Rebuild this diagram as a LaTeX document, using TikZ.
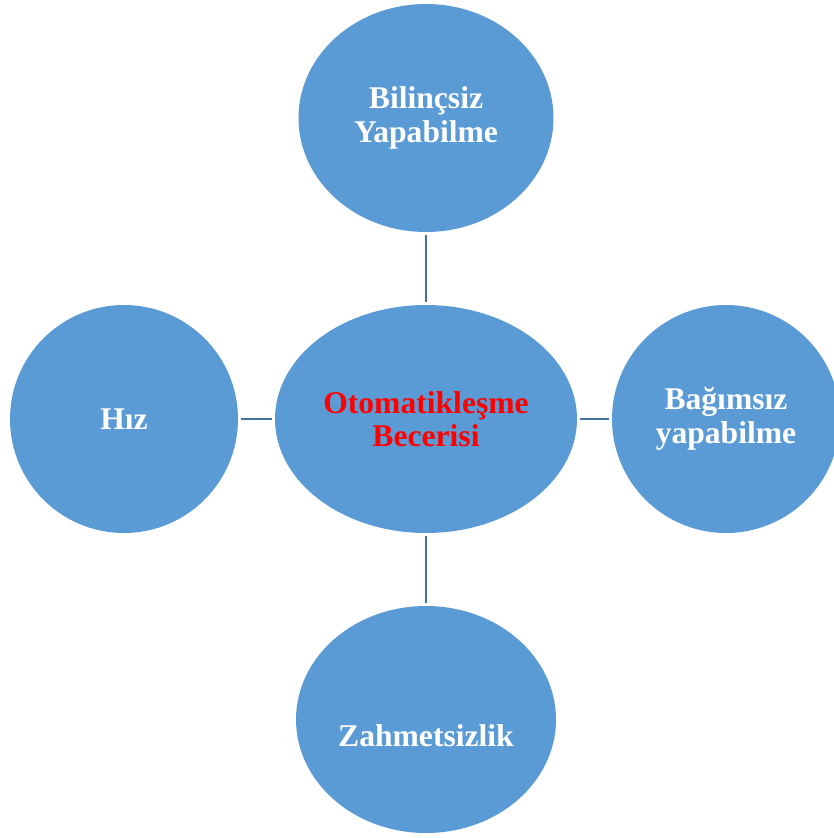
\documentclass[tikz,border=0pt]{standalone}
\usepackage{fontspec}
\setmainfont{Liberation Serif}
\usetikzlibrary{shapes.geometric}
\definecolor{bubble}{HTML}{5B9BD5}
\definecolor{linkc}{HTML}{41719C}
\definecolor{redtxt}{HTML}{FF0000}
\tikzset{
  bub/.style={ellipse, fill=bubble, inner sep=0pt, align=center,
    font=\fontsize{31.6}{33.5}\selectfont\bfseries, text=white},
  link/.style={draw=linkc, line width=2.6pt, shorten <=3pt, shorten >=3pt}
}
\begin{document}
\begin{tikzpicture}[x=1pt,y=-1pt]
\useasboundingbox (0,0) rectangle (834,838);
\clip (0,0) rectangle (834,838);
\node[bub, minimum width=302pt, minimum height=228pt, text=redtxt] (c) at (426,419) {Otomatikleşme\\Becerisi};
\node[bub, minimum width=255pt, minimum height=228pt] (t) at (426,118) {Bilinçsiz\\Yapabilme};
\node[bub, minimum width=228pt, minimum height=228pt] (l) at (124,419) {Hız};
\node[bub, minimum width=228pt, minimum height=228pt] (r) at (726,419) {Bağımsız\\yapabilme};
\node[bub, minimum width=260pt, minimum height=227pt, text height=54pt, text depth=0pt] (b) at (426,719.5) {Zahmetsizlik};
\draw[link] (c.north) -- (t.south);
\draw[link] (c.south) -- (b.north);
\draw[link] (c.west) -- (l.east);
\draw[link] (c.east) -- (r.west);
\end{tikzpicture}
\end{document}
